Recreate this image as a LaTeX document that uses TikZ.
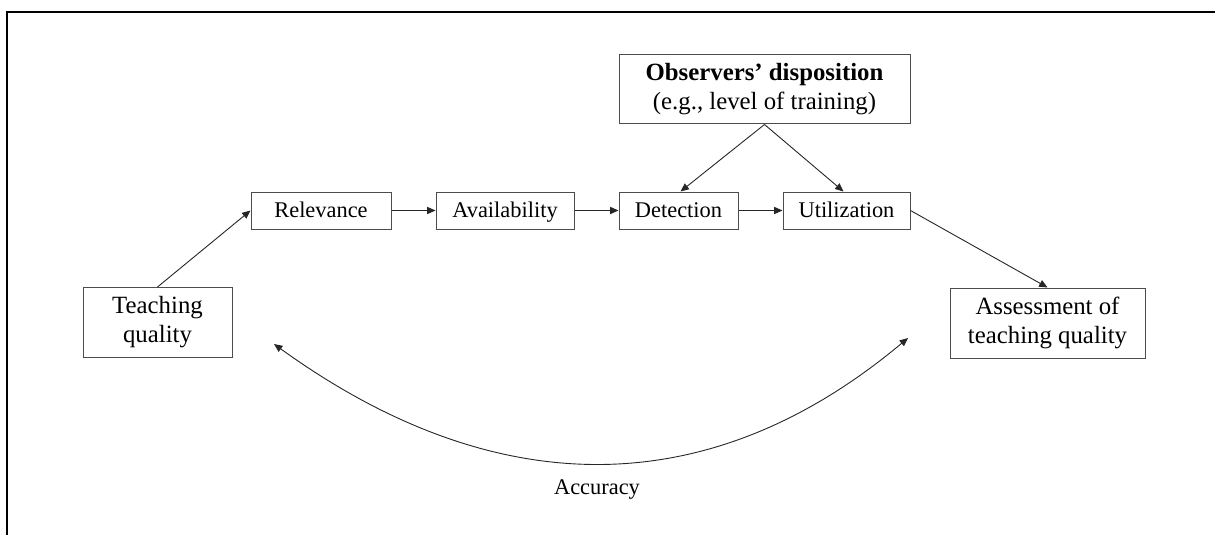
\documentclass[tikz,border=0pt]{standalone}
\usepackage{fontspec}
\setmainfont{Liberation Serif}
\usetikzlibrary{arrows.meta}
\newcommand{\bigtxt}{\fontsize{12.4}{14.5}\selectfont}
\newcommand{\smalltxt}{\fontsize{11.2}{13.4}\selectfont}
\begin{document}
\begin{tikzpicture}[x=0.5pt,y=-0.5pt,
  box/.style={draw=black!70,line width=0.5pt,rectangle,inner sep=0pt,align=center},
  stagebox/.style={box,minimum height=18.5pt,text height=8.8pt,text depth=1.6pt,font=\smalltxt},
  tallbox/.style={box,minimum height=35pt,font=\bigtxt},
  link/.style={draw=black!85,line width=0.45pt,-{Triangle[length=4.2pt,width=3.6pt]}},
  frameline/.style={draw=black,line width=0.8pt}]
\useasboundingbox (0,0) rectangle (1215,535);

% outer frame (top and left edges)
\draw[frameline] (1215,12) -- (7,12) -- (7,535);

% nodes
\node[tallbox,minimum width=74.5pt] (teach) at (157.5,322.5) {Teaching\\quality};
\node[stagebox,minimum width=70pt] (rel) at (321,210.5) {Relevance};
\node[stagebox,minimum width=69pt] (avail) at (505,210.5) {Availability};
\node[stagebox,minimum width=59.5pt] (detect) at (678.5,210.5) {Detection};
\node[stagebox,minimum width=63.5pt] (util) at (846.5,210.5) {Utilization};
\node[tallbox,minimum width=145.5pt,minimum height=34.5pt] (obs) at (764.5,89.5)
  {\textbf{Observers’ disposition}\\(e.g., level of training)};
\node[tallbox,minimum width=97.5pt] (assess) at (1047.5,323) {Assessment of\\teaching quality};

% connectors
\draw[link] (teach.north) -- (rel.west);
\draw[link] (rel.east) -- (avail.west);
\draw[link] (avail.east) -- (detect.west);
\draw[link] (detect.east) -- (util.west);
\draw[link] (util.east) -- (assess.north);
\draw[link] (obs.south) -- ([xshift=1pt]detect.north);
\draw[link] (obs.south) -- ([xshift=-1.5pt]util.north);

% accuracy arc
\coordinate (accL) at (274,344);
\coordinate (accR) at (908,338);
\draw[link,{Triangle[length=4.2pt,width=3.6pt]}-{Triangle[length=4.2pt,width=3.6pt]}]
  (accL) .. controls (490,500) and (705,508) .. (accR);
\node[font=\smalltxt] (acc) at (597,490) {Accuracy};
\end{tikzpicture}
\end{document}
